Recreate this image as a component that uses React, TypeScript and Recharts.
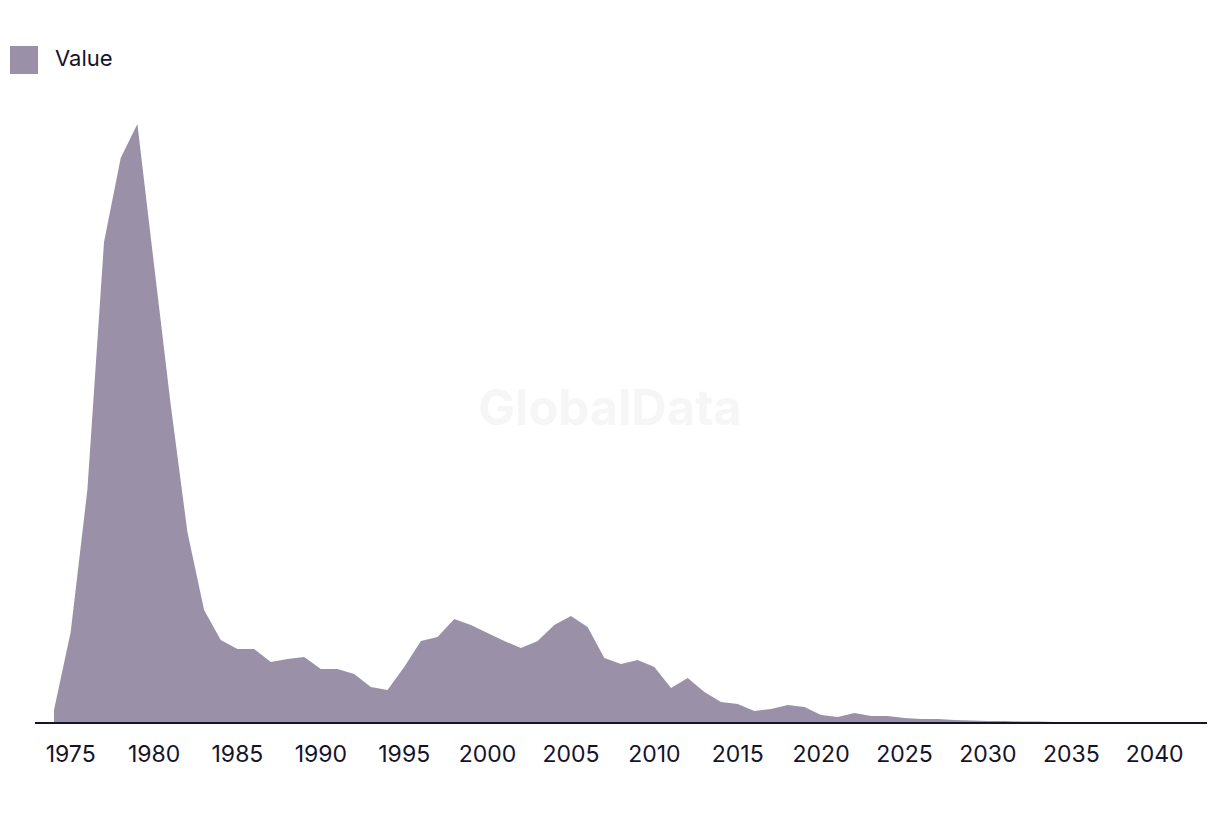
import { AreaChart, Area, XAxis, YAxis, Legend } from "recharts";

const years = [
  1974, 1975, 1976, 1977, 1978, 1979, 1980, 1981, 1982, 1983, 1984, 1985, 1986, 1987,
  1988, 1989, 1990, 1991, 1992, 1993, 1994, 1995, 1996, 1997, 1998, 1999, 2000, 2001,
  2002, 2003, 2004, 2005, 2006, 2007, 2008, 2009, 2010, 2011, 2012, 2013, 2014, 2015,
  2016, 2017, 2018, 2019, 2020, 2021, 2022, 2023, 2024, 2025, 2026, 2027, 2028, 2029,
  2030, 2031, 2032, 2033, 2034, 2035, 2036, 2037, 2038, 2039, 2040, 2041, 2042,
];
const values = [
  13, 91, 233, 481, 565, 599, 458, 318, 191, 113, 83, 74, 74, 61,
  64, 66, 54, 54, 49, 36, 33, 56, 82, 86, 104, 98, 90, 82,
  75, 82, 98, 107, 96, 65, 59, 63, 56, 35, 45, 31, 21, 19,
  12, 14, 18, 16, 8, 6, 10, 7, 7, 5, 4, 4, 3, 2.5,
  2, 2, 1.5, 1.5, 1, 1, 0.8, 0.6, 0.5, 0.4, 0.3, 0.2, 0.1,
];
const xTicks = [1975, 1980, 1985, 1990, 1995, 2000, 2005, 2010, 2015, 2020, 2025, 2030, 2035, 2040];

const data = years.map((year, i) => ({ year, value: values[i] }));

const FILL = "#9a91a8";
const INK = "#15132b";
const FONT = "Inter, 'Noto Sans', sans-serif";

function LegendBox() {
  return (
    <div style={{ display: "flex", alignItems: "center", fontFamily: FONT, height: 28 }}>
      <span style={{ width: 28, height: 28, background: FILL, display: "inline-block" }} />
      <span style={{ marginLeft: 17, marginTop: -4, fontSize: 22, color: INK, lineHeight: "28px" }}>
        Value
      </span>
    </div>
  );
}

export default function App() {
  return (
    <div style={{ position: "absolute", left: 0, top: 0, width: 1220, height: 814, background: "#fff" }}>
      <div
        style={{
          position: "absolute",
          left: 0,
          width: 1220,
          top: 378,
          textAlign: "center",
          fontFamily: FONT,
          fontWeight: 700,
          fontSize: 49,
          color: "#f6f6f6",
        }}
      >
        GlobalData
      </div>
      <AreaChart
        width={1220}
        height={814}
        data={data}
        margin={{ top: 95, right: 13, bottom: 31, left: 35 }}
        style={{ position: "relative" }}
      >
        <Legend
          verticalAlign="top"
          align="left"
          content={() => <LegendBox />}
          wrapperStyle={{ top: 46, left: 10, width: "auto", height: 28 }}
        />
        <YAxis hide domain={[0, 600]} />
        <XAxis
          dataKey="year"
          type="number"
          domain={[1974, 2042]}
          ticks={xTicks}
          padding={{ left: 19, right: 19 }}
          height={60}
          tickLine={false}
          tickMargin={17}
          axisLine={{ stroke: INK, strokeWidth: 2 }}
          tick={{ fill: INK, fontSize: 23, fontFamily: FONT }}
          interval={0}
        />
        <Area
          type="linear"
          dataKey="value"
          stroke="none"
          fill={FILL}
          fillOpacity={1}
          isAnimationActive={false}
        />
      </AreaChart>
    </div>
  );
}
